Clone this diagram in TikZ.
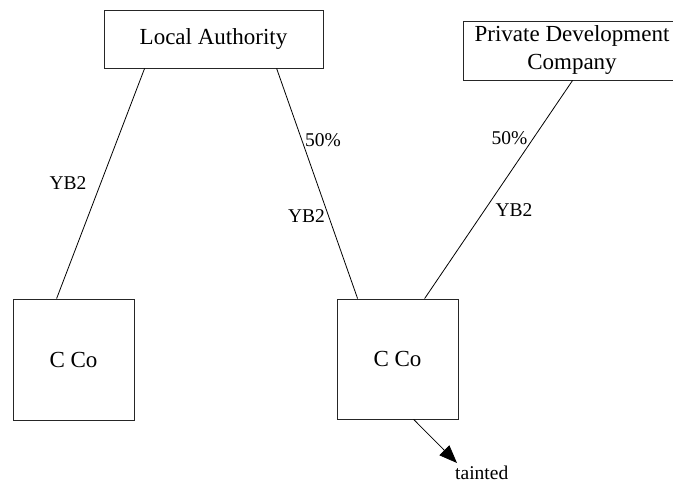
\documentclass[tikz,border=0pt]{standalone}
\usepackage{fontspec}
\setmainfont{Liberation Serif}
\usetikzlibrary{arrows.meta}
\begin{document}
\begin{tikzpicture}[x=1pt,y=-1pt,
  entity/.style={draw=black!85,line width=0.8pt,inner sep=0pt,align=center,
    font=\fontsize{23}{28}\selectfont},
  link/.style={draw=black,line width=0.8pt},
  tag/.style={inner sep=0pt,anchor=base,font=\fontsize{19.5}{22}\selectfont}]
\useasboundingbox (0,0) rectangle (673,484);
\clip (0,0) rectangle (673,484);

% owners
\node[entity,minimum width=219pt,minimum height=58pt] (la) at (213.5,39) {Local Authority};
\node[entity,minimum width=218pt,minimum height=59pt] (pdc) at (572,50.5) {Private Development\\Company};

% companies
\node[entity,minimum width=121pt,minimum height=121pt] (cco1) at (73.5,359.5) {C Co};
\node[entity,minimum width=121pt,minimum height=120pt] (cco2) at (397.5,359) {C Co};

% ownership links
\draw[link] ([xshift=41pt]la.south west) -- ([xshift=44pt]cco1.north west);
\draw[link] ([xshift=173pt]la.south west) -- ([xshift=21pt]cco2.north west);
\draw[link] ([xshift=110pt]pdc.south west) -- ([xshift=88pt]cco2.north west);

% link labels
\node[tag] (y1) at (68,190) {YB2};
\node[tag] (p1) at (323,147) {50\%};
\node[tag] (y2) at (306.5,223) {YB2};
\node[tag] (p2) at (509.5,145) {50\%};
\node[tag] (y3) at (514,217) {YB2};

% tainted marker
\coordinate (tip) at (457,463);
\node[tag,anchor=base west] (taint) at (455,479) {tainted};
\draw[link,-{Triangle[length=18pt,width=14pt]}] ([xshift=77pt]cco2.south west) -- (tip);
\end{tikzpicture}
\end{document}
